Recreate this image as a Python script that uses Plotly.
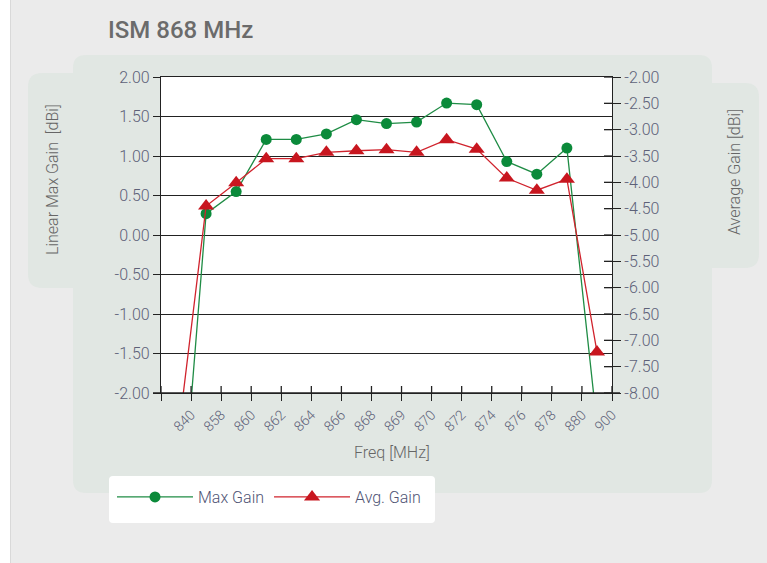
import plotly.graph_objects as go

# ---------------- data ----------------
freq_labels = ["840", "858", "860", "862", "864", "866", "868", "869",
               "870", "872", "874", "876", "878", "880", "900"]
max_gain = [-4.48, 0.27, 0.55, 1.21, 1.21, 1.28, 1.46, 1.41,
            1.43, 1.67, 1.65, 0.93, 0.77, 1.10, -2.40]
avg_gain = [-9.14, -4.45, -4.01, -3.55, -3.55, -3.43, -3.40, -3.38,
            -3.43, -3.19, -3.37, -3.92, -4.15, -3.94, -7.22]
left_ticks = [-2.0, -1.5, -1.0, -0.5, 0.0, 0.5, 1.0, 1.5, 2.0]
right_ticks = [-8.0, -7.5, -7.0, -6.5, -6.0, -5.5, -5.0, -4.5, -4.0, -3.5, -3.0, -2.5, -2.0]

# ---------------- layout helpers ----------------
W, H = 767, 563
L, R, T, B = 161, 612, 77, 393


def px(x):
    return (x - L) / (R - L)


def py(y):
    return (B - y) / (B - T)


def rrect(x0, y0, x1, y1, r):
    def p(x, y):
        return f"{px(x):.5f},{py(y):.5f}"
    pts = ["M" + p(x0 + r, y0),
           "L" + p(x1 - r, y0),
           "Q" + p(x1, y0) + " " + p(x1, y0 + r),
           "L" + p(x1, y1 - r),
           "Q" + p(x1, y1) + " " + p(x1 - r, y1),
           "L" + p(x0 + r, y1),
           "Q" + p(x0, y1) + " " + p(x0, y1 - r),
           "L" + p(x0, y0 + r),
           "Q" + p(x0, y0) + " " + p(x0 + r, y0)]
    return " ".join(pts) + " Z"


idx = list(range(len(freq_labels)))
bounds = [i - 0.5 for i in idx] + [idx[-1] + 0.5]
bound_text = [""] + freq_labels
left_text = [f"{v:.2f}" for v in left_ticks]
right_text = [f"{v:.2f}" for v in right_ticks]

TICK_FONT = dict(family="Roboto, Liberation Sans, sans-serif", size=16, color="#5d6178", weight=300)
TITLE_FONT = dict(family="Roboto, Liberation Sans, sans-serif", size=16, color="#666666", weight=300)
PANEL = "#e1e7e3"
BG = "#ebebeb"
AX = "#222222"

fig = go.Figure()
fig.add_trace(go.Scatter(
    x=idx, y=max_gain, name="Max Gain", mode="lines+markers",
    line=dict(color="#1f8c45", width=1.3),
    marker=dict(symbol="circle", size=11, color="#0b8a3a"),
))
fig.add_trace(go.Scatter(
    x=idx, y=avg_gain, name="Avg. Gain", yaxis="y2", mode="lines+markers",
    line=dict(color="#d0232d", width=1.3),
    marker=dict(symbol="triangle-up", size=14, color="#c8161f"),
))

shapes = [
    dict(type="rect", xref="paper", yref="paper", x0=px(0), x1=px(10), y0=py(H), y1=py(0),
         fillcolor="white", line=dict(width=0), layer="below"),
    dict(type="line", xref="paper", yref="paper", x0=px(10.5), x1=px(10.5), y0=py(H), y1=py(0),
         line=dict(color="#d9d9d9", width=1), layer="below"),
    dict(type="path", xref="paper", yref="paper", path=rrect(28, 73, 90, 288, 14),
         fillcolor=PANEL, line=dict(width=0), layer="below"),
    dict(type="path", xref="paper", yref="paper", path=rrect(695, 83, 759, 268, 14),
         fillcolor=PANEL, line=dict(width=0), layer="below"),
    dict(type="path", xref="paper", yref="paper", path=rrect(73, 55, 712, 493, 13),
         fillcolor=PANEL, line=dict(width=0), layer="below"),
    dict(type="path", xref="paper", yref="paper", path=rrect(109, 476, 435, 523, 4),
         fillcolor="white", line=dict(width=0), layer="below"),
    dict(type="rect", xref="paper", yref="paper", x0=0, x1=1, y0=0, y1=1,
         fillcolor="white", line=dict(width=0), layer="below"),
    # x-axis line runs a little past both vertical axes
    dict(type="line", xref="paper", yref="paper", x0=px(153), x1=px(620), y0=0, y1=0,
         line=dict(color=AX, width=1.3), layer="above"),
]
# inner halves of the crossing tick marks (positioned through the axes)
for v in right_ticks:
    shapes.append(dict(type="line", xref="paper", yref="y2", x0=1 - 8 / (R - L), x1=1,
                       y0=v, y1=v, line=dict(color=AX, width=1.3), layer="above"))
for b in bounds:
    shapes.append(dict(type="line", xref="x", yref="paper", x0=b, x1=b,
                       y0=0, y1=7 / (B - T), line=dict(color=AX, width=1.3), layer="above"))

annotations = [
    dict(text="Linear Max Gain  [dBi]", xref="paper", yref="paper", x=px(52), y=py(180),
         textangle=-90, showarrow=False, font=TITLE_FONT, xanchor="center", yanchor="middle"),
    dict(text="Average Gain [dBi]", xref="paper", yref="paper", x=px(734), y=py(172),
         textangle=-90, showarrow=False, font=TITLE_FONT, xanchor="center", yanchor="middle"),
    dict(text="Freq [MHz]", xref="paper", yref="paper", x=px(392), y=py(452),
         showarrow=False, font=TITLE_FONT, xanchor="center", yanchor="middle"),
]

fig.update_layout(
    width=W, height=H,
    margin=dict(l=L, r=W - R, t=T, b=H - B, pad=0),
    paper_bgcolor=BG, plot_bgcolor="white",
    title=dict(text="ISM 868 MHz", xref="container", yref="container",
               x=108 / W, xanchor="left", y=1 - 30 / H, yanchor="middle",
               font=dict(family="Roboto, Liberation Sans, sans-serif",
                         size=24, color="#6b6b6b", weight=500)),
    showlegend=True,
    legend=dict(orientation="h", x=px(112), y=py(480), xanchor="left", yanchor="top",
                bgcolor="rgba(0,0,0,0)", itemwidth=76,
                font=dict(family="Roboto, Liberation Sans, sans-serif", size=16,
                          color="#4f5474", weight=300)),
    xaxis=dict(range=[-0.5, idx[-1] + 0.5], tickmode="array", tickvals=bounds, ticktext=bound_text,
               tickangle=-45, ticks="outside", ticklen=7, tickwidth=1.3, tickcolor=AX,
               showline=True, linecolor=AX, linewidth=1.3, mirror=True,
               showgrid=False, zeroline=False, tickfont=dict(TICK_FONT, size=14)),
    yaxis=dict(range=[-2, 2], tickmode="array", tickvals=left_ticks, ticktext=left_text,
               ticks="outside", ticklen=7, tickwidth=1.3, tickcolor=AX,
               showline=True, linecolor=AX, linewidth=1.3,
               showgrid=True, gridcolor=AX, gridwidth=1.3, zeroline=False,
               tickfont=TICK_FONT),
    yaxis2=dict(range=[-8, -2], overlaying="y", side="right", tickmode="array",
                tickvals=right_ticks, ticktext=right_text,
                ticks="outside", ticklen=8, tickwidth=1.3, tickcolor=AX,
                showline=True, linecolor=AX, linewidth=1.3,
                showgrid=False, zeroline=False, tickfont=TICK_FONT),
    shapes=shapes,
    annotations=annotations,
)

fig.write_html("out.html", config={"displayModeBar": False},
               post_script="document.body.style.margin='0';document.body.style.padding='0';")
